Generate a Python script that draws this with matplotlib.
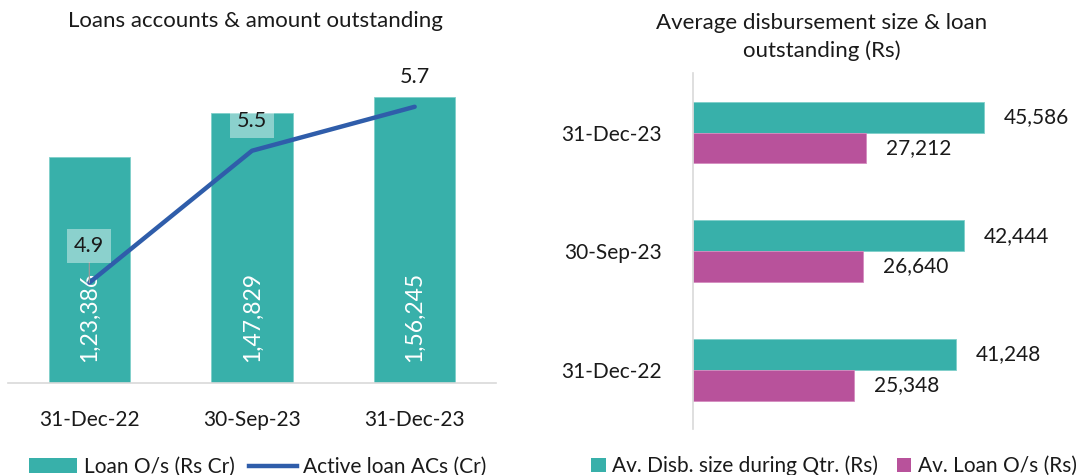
import matplotlib
matplotlib.use("Agg")
import matplotlib.pyplot as plt
from matplotlib.patches import Patch
from matplotlib.lines import Line2D

# ---- data ----
left_categories = ["31-Dec-22", "30-Sep-23", "31-Dec-23"]
loan_outstanding = [123386, 147829, 156245]          # Rs Cr
loan_outstanding_labels = ["1,23,386", "1,47,829", "1,56,245"]
active_loan_acs = [4.9, 5.5, 5.7]                    # Cr

right_categories = ["31-Dec-22", "30-Sep-23", "31-Dec-23"]
avg_disb_size = [41248, 42444, 45586]                # Rs
avg_loan_os = [25348, 26640, 27212]                  # Rs

TEAL = "#38B0AA"
BLUE = "#2F5DAA"
PINK = "#B8529B"
TXT = "#1a1a1a"
GRID = "#D9D9D9"

plt.rcParams["font.family"] = ["Lato", "DejaVu Sans"]
FS = 15
TFS = 16

W, H = 1084, 475
fig = plt.figure(figsize=(W / 100, H / 100), dpi=100)


def px_axes(x0, y0, x1, y1):
    """x0,y0 top-left; x1,y1 bottom-right in pixels"""
    return fig.add_axes([x0 / W, 1 - y1 / H, (x1 - x0) / W, (y1 - y0) / H])


# ================= left chart =================
ax = px_axes(8, 54, 496, 382.5)
xs = list(range(len(left_categories)))
ax.bar(xs, loan_outstanding, width=0.5, color=TEAL, edgecolor="#7fcfca", linewidth=0.6, zorder=2)
ax.set_xlim(-0.5, 2.5)
ax.set_ylim(0, 180000)
ax.set_xticks(xs)
ax.set_xticklabels(left_categories, fontsize=FS, color=TXT)
ax.tick_params(axis="x", length=0, pad=20)
ax.set_yticks([])
for s in ["top", "right", "left"]:
    ax.spines[s].set_visible(False)
ax.spines["bottom"].set_color(GRID)
ax.spines["bottom"].set_linewidth(1.2)
for x, lab in zip(xs, loan_outstanding_labels):
    ax.annotate(lab, (x, 0), xytext=(0, 20), textcoords="offset pixels",
                rotation=90, ha="center", va="bottom", color="white", fontsize=FS + 1.5)

ax2 = ax.twinx()
ax2.plot(xs, active_loan_acs, color=BLUE, lw=3.2, solid_capstyle="round", zorder=3)
ax2.set_ylim(4.446, 5.94)
ax2.set_yticks([])
for s in ax2.spines.values():
    s.set_visible(False)
offsets = [37, 30, 30]
for x, v, off in zip(xs, active_loan_acs, offsets):
    kw = {}
    if x == 0:
        kw["arrowprops"] = dict(arrowstyle="-", color="#9a9a9a", lw=0.9, shrinkA=0, shrinkB=0)
    ax2.annotate(f"{v:.1f}", (x, v), xytext=(0, off), textcoords="offset pixels",
                 ha="center", va="center", fontsize=FS + 0.5, color=TXT,
                 bbox=dict(boxstyle="square,pad=0.32", fc="white", ec="none", alpha=0.42),
                 **kw)

fig.text(255 / W, 1 - 21 / H, "Loans accounts & amount outstanding",
         ha="center", va="center", fontsize=TFS, color=TXT)

leg1 = fig.legend(
    handles=[Patch(facecolor=TEAL, edgecolor="none"),
             Line2D([0], [0], color=BLUE, lw=3.2)],
    labels=["Loan O/s (Rs Cr)", "Active loan ACs (Cr)"],
    loc="center", bbox_to_anchor=(258 / W, 1 - 467 / H), ncol=2, frameon=False,
    fontsize=FS, handlelength=2.3, handleheight=0.7, handletextpad=0.3,
    columnspacing=0.7, borderpad=0)
for t in leg1.get_texts():
    t.set_color(TXT)

# ================= right chart =================
bx = px_axes(692.7, 73.3, 1069.3, 429)
ys = list(range(len(right_categories)))
bh = 0.26
bx.barh([y + bh / 2 for y in ys], avg_disb_size, height=bh, color=TEAL,
        edgecolor="#7fcfca", linewidth=0.6, zorder=2)
bx.barh([y - bh / 2 for y in ys], avg_loan_os, height=bh, color=PINK,
        edgecolor="#d48cc0", linewidth=0.6, zorder=2)
bx.set_xlim(0, 59000)
bx.set_ylim(-0.5, 2.5)
bx.set_yticks(ys)
bx.set_yticklabels(right_categories, fontsize=FS, color=TXT)
bx.tick_params(axis="y", length=0, pad=22)
bx.set_xticks([])
for s in ["top", "right", "bottom"]:
    bx.spines[s].set_visible(False)
bx.spines["left"].set_color(GRID)
bx.spines["left"].set_linewidth(1.2)
for y, v in zip(ys, avg_disb_size):
    bx.annotate(f"{v:,}", (v, y + bh / 2), xytext=(20, 0), textcoords="offset pixels",
                ha="left", va="center", fontsize=FS, color=TXT)
for y, v in zip(ys, avg_loan_os):
    bx.annotate(f"{v:,}", (v, y - bh / 2), xytext=(20, 0), textcoords="offset pixels",
                ha="left", va="center", fontsize=FS, color=TXT)

fig.text(822 / W, 1 - 37 / H, "Average disbursement size & loan\noutstanding (Rs)",
         ha="center", va="center", fontsize=TFS, color=TXT, linespacing=1.4)

leg2 = fig.legend(
    handles=[Patch(facecolor=TEAL, edgecolor="none"),
             Patch(facecolor=PINK, edgecolor="none")],
    labels=["Av. Disb. size during Qtr. (Rs)", "Av. Loan O/s (Rs)"],
    loc="center", bbox_to_anchor=(834 / W, 1 - 466 / H), ncol=2, frameon=False,
    fontsize=FS, handlelength=0.7, handleheight=0.7, handletextpad=0.3,
    columnspacing=0.9, borderpad=0)
for t in leg2.get_texts():
    t.set_color(TXT)

fig.savefig("out.png", dpi=100)
